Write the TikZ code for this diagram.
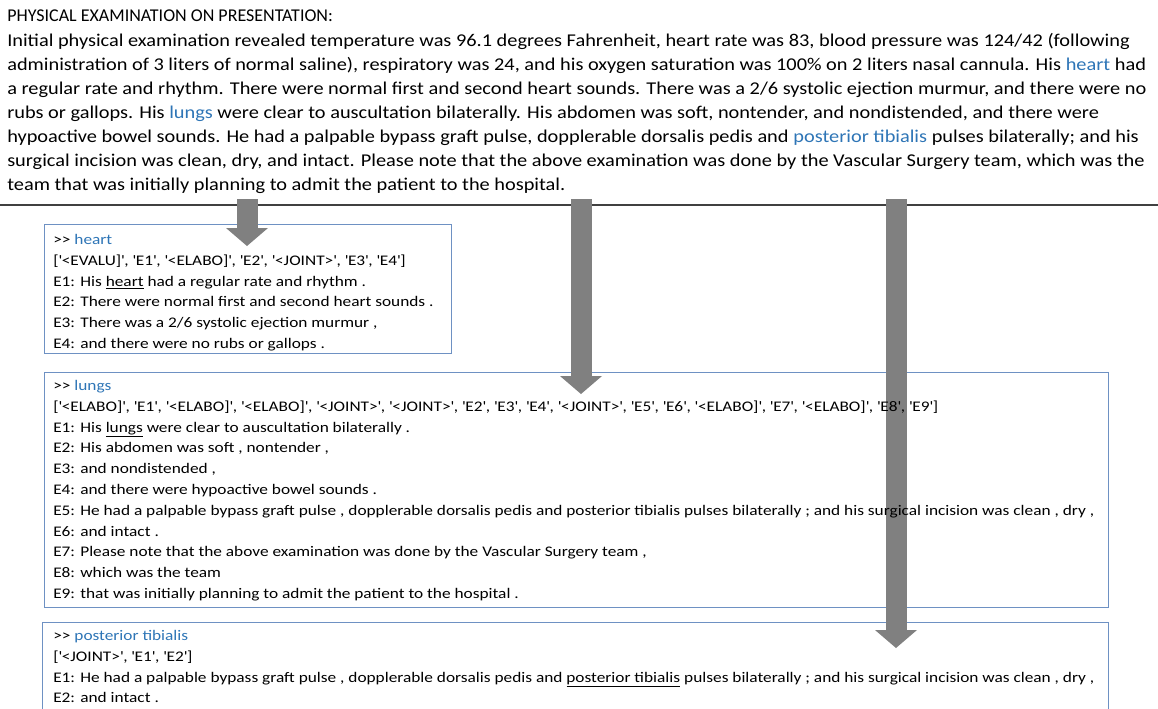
\documentclass[tikz,border=0pt]{standalone}
\usepackage{fontspec}
\setmainfont{Carlito}
\newfontfamily\notefont{Carlito}[FakeStretch=1.13]
\newfontfamily\panelfont{Carlito}[FakeStretch=1.18]
\usetikzlibrary{arrows.meta}
\definecolor{kwblue}{RGB}{46,117,182}
\definecolor{boxline}{RGB}{110,145,195}
\definecolor{arrowgray}{RGB}{128,128,128}
\definecolor{rulegray}{RGB}{64,64,64}
\newcommand{\kw}[1]{\textcolor{kwblue}{#1}}
\newcommand{\tok}[1]{\textquotesingle#1\textquotesingle}
\newcommand{\prompt}{>\kern0pt>}
\tikzset{
  para/.style={inner sep=0pt, anchor=north west, align=left, font=\notefont\fontsize{13.5pt}{18.1pt}\selectfont},
  panel/.style={draw=boxline, line width=1pt, inner sep=0pt, anchor=north west},
  paneltext/.style={inner sep=0pt, anchor=north west, align=left, font=\panelfont\fontsize{11pt}{15.6pt}\selectfont},
  blockarrow/.style={draw=arrowgray, line width=15.75pt, -{Triangle[width=31.5pt,length=13.5pt,line width=0pt]}},
}
\begin{document}
\begin{tikzpicture}[x=0.75pt,y=-0.75pt]
\useasboundingbox (0,0) rectangle (1158,708);
\clip (0,0) rectangle (1158,708);
% the note
\node[para] (exam) at (7,10) {\rmfamily PHYSICAL EXAMINATION ON PRESENTATION:\\
Initial physical examination revealed temperature was 96.1 degrees Fahrenheit, heart rate was 83, blood pressure was 124/42 (following\\
administration of 3 liters of normal saline), respiratory was 24, and his oxygen saturation was 100\% on 2 liters nasal cannula. His \kw{heart} had\\
a regular rate and rhythm. There were normal first and second heart sounds. There was a 2/6 systolic ejection murmur, and there were no\\
rubs or gallops. His \kw{lungs} were clear to auscultation bilaterally. His abdomen was soft, nontender, and nondistended, and there were\\
hypoactive bowel sounds. He had a palpable bypass graft pulse, dopplerable dorsalis pedis and \kw{posterior tibialis} pulses bilaterally; and his\\
surgical incision was clean, dry, and intact. Please note that the above examination was done by the Vascular Surgery team, which was the\\
team that was initially planning to admit the patient to the hospital.};
\draw[rulegray, line width=1.1pt] (0,205) -- (1158,205);
% the three panels
\node[panel, minimum width=305.25pt, minimum height=96.75pt] (heartbox) at (44,224) {};
\node[panel, minimum width=798pt, minimum height=176.25pt] (lungsbox) at (44,372) {};
\node[panel, minimum width=799.5pt, minimum height=90pt] (tibbox) at (42,622) {};
% arrows from the keywords
\coordinate (heartsrc) at (247,199);
\coordinate (heartdst) at (247,246);
\coordinate (lungssrc) at (581,199);
\coordinate (lungsdst) at (581,394);
\coordinate (tibsrc) at (896,199);
\coordinate (tibdst) at (896,648);
\draw[blockarrow] (heartsrc) -- (heartdst);
\draw[blockarrow] (lungssrc) -- (lungsdst);
\draw[blockarrow] (tibsrc) -- (tibdst);
% panel texts
\node[paneltext] (hearttxt) at (53,234) {\prompt{} \kw{heart}\\ {}[\tok{<EVALU]}, \tok{E1}, \tok{<ELABO]}, \tok{E2}, \tok{<JOINT>}, \tok{E3}, \tok{E4}]\\
E1: His \underline{heart} had a regular rate and rhythm .\\
E2: There were normal first and second heart sounds .\\
E3: There was a 2/6 systolic ejection murmur ,\\
E4: and there were no rubs or gallops .};
\node[paneltext] (lungstxt) at (53,380) {\prompt{} \kw{lungs}\\ {}[\tok{<ELABO]}, \tok{E1}, \tok{<ELABO]}, \tok{<ELABO]}, \tok{<JOINT>}, \tok{<JOINT>}, \tok{E2}, \tok{E3}, \tok{E4}, \tok{<JOINT>}, \tok{E5}, \tok{E6}, \tok{<ELABO]}, \tok{E7}, \tok{<ELABO]}, \tok{E8}, \tok{E9}]\\
E1: His \underline{lungs} were clear to auscultation bilaterally .\\
E2: His abdomen was soft , nontender ,\\
E3: and nondistended ,\\
E4: and there were hypoactive bowel sounds .\\
E5: He had a palpable bypass graft pulse , dopplerable dorsalis pedis and posterior tibialis pulses bilaterally ; and his surgical incision was clean , dry ,\\
E6: and intact .\\
E7: Please note that the above examination was done by the Vascular Surgery team ,\\
E8: which was the team\\
E9: that was initially planning to admit the patient to the hospital .};
\node[paneltext] (tibtxt) at (53,630) {\prompt{} \kw{posterior tibialis}\\ {}[\tok{<JOINT>}, \tok{E1}, \tok{E2}]\\
E1: He had a palpable bypass graft pulse , dopplerable dorsalis pedis and \underline{posterior tibialis} pulses bilaterally ; and his surgical incision was clean , dry ,\\
E2: and intact .};
\end{tikzpicture}
\end{document}
